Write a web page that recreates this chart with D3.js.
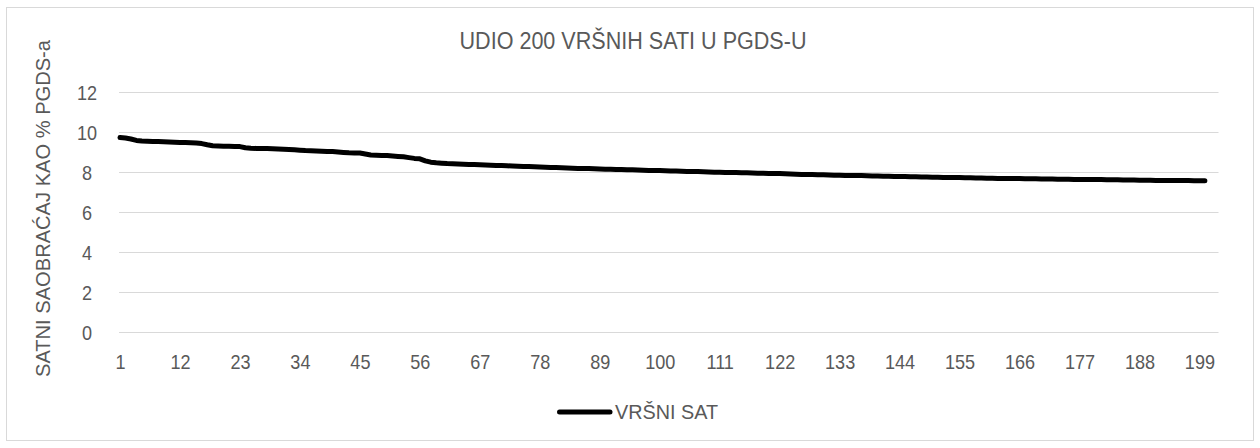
<!DOCTYPE html>
<html>
<head>
<meta charset="utf-8">
<script src="https://cdn.jsdelivr.net/npm/d3@7"></script>
<style>
  html, body { margin: 0; padding: 0; background: #fff; }
  svg { display: block; font-family: "Liberation Sans", Arial, sans-serif; }
</style>
</head>
<body>
<svg id="chart" width="1260" height="448"></svg>
<script>
// Share of each of the 200 peak hours in AADT (%), ranked from highest to lowest
const title = "UDIO 200 VRŠNIH SATI U PGDS-U";
const yTitle = "SATNI SAOBRAĆAJ KAO % PGDS-a";
const seriesName = "VRŠNI SAT";

const peakShare = [
  9.72, 9.70, 9.65, 9.58, 9.55, 9.54, 9.53, 9.52, 9.51, 9.50,
  9.49, 9.48, 9.47, 9.46, 9.45, 9.42, 9.36, 9.31, 9.30, 9.29,
  9.29, 9.28, 9.27, 9.21, 9.19, 9.18, 9.17, 9.17, 9.16, 9.15,
  9.14, 9.13, 9.11, 9.09, 9.07, 9.06, 9.05, 9.04, 9.03, 9.02,
  9.00, 8.98, 8.96, 8.95, 8.95, 8.90, 8.85, 8.84, 8.83, 8.82,
  8.80, 8.78, 8.76, 8.72, 8.68, 8.66, 8.56, 8.49, 8.46, 8.44,
  8.42, 8.41, 8.40, 8.39, 8.38, 8.37, 8.36, 8.35, 8.34, 8.33,
  8.32, 8.31, 8.30, 8.29, 8.28, 8.27, 8.26, 8.25, 8.24, 8.23,
  8.22, 8.21, 8.20, 8.19, 8.18, 8.17, 8.17, 8.16, 8.15, 8.14,
  8.14, 8.13, 8.12, 8.11, 8.11, 8.10, 8.09, 8.08, 8.08, 8.07,
  8.06, 8.05, 8.05, 8.04, 8.03, 8.02, 8.02, 8.01, 8.00, 7.99,
  7.99, 7.98, 7.98, 7.97, 7.96, 7.96, 7.95, 7.94, 7.94, 7.93,
  7.92, 7.92, 7.91, 7.90, 7.89, 7.88, 7.88, 7.87, 7.86, 7.86,
  7.85, 7.84, 7.84, 7.83, 7.83, 7.82, 7.82, 7.81, 7.80, 7.80,
  7.79, 7.79, 7.78, 7.77, 7.77, 7.76, 7.76, 7.75, 7.75, 7.74,
  7.74, 7.73, 7.73, 7.72, 7.72, 7.71, 7.71, 7.70, 7.70, 7.69,
  7.69, 7.68, 7.68, 7.68, 7.67, 7.67, 7.66, 7.66, 7.66, 7.65,
  7.65, 7.65, 7.64, 7.64, 7.64, 7.63, 7.63, 7.63, 7.62, 7.62,
  7.62, 7.61, 7.61, 7.61, 7.60, 7.60, 7.60, 7.59, 7.59, 7.59,
  7.58, 7.58, 7.58, 7.58, 7.57, 7.57, 7.57, 7.56, 7.56, 7.56
];

// Hour rank of each value (1 = busiest hour)
const hourRank = peakShare.map((_, i) => i + 1);

// Category labels shown on the horizontal axis
const xTickLabels = [1, 12, 23, 34, 45, 56, 67, 78, 89, 100, 111, 122, 133, 144, 155, 166, 177, 188, 199];
const yTicks = [0, 2, 4, 6, 8, 10, 12];

const textColor = "#595959";
const gridColor = "#d9d9d9";

// Condensed look for labels: squeeze each glyph run horizontally
function condense(sel, factor) {
  sel.each(function () {
    const w = this.getComputedTextLength();
    d3.select(this)
      .attr("textLength", w * factor)
      .attr("lengthAdjust", "spacingAndGlyphs");
  });
}

const svg = d3.select("#chart");

// Outer chart frame
svg.append("rect")
  .attr("x", 6.5).attr("y", 7.5)
  .attr("width", 1247).attr("height", 433)
  .attr("fill", "#fff")
  .attr("stroke", gridColor)
  .attr("stroke-width", 1);

const plotLeft = 119, plotRight = 1218.5;
const x = d3.scaleLinear().domain([1, 202.5]).range([plotLeft + 1, plotRight]);
const y = d3.scaleLinear().domain([0, 12]).range([332, 92]);

// Horizontal gridlines with value labels
const yAxis = d3.axisLeft(y)
  .tickValues(yTicks)
  .tickSize(-(plotRight - plotLeft))
  .tickPadding(22)
  .tickFormat(d3.format("d"));

const gy = svg.append("g")
  .attr("transform", `translate(${plotLeft},0)`)
  .call(yAxis);
gy.select(".domain").remove();
gy.selectAll(".tick line").attr("stroke", gridColor).attr("stroke-width", 1);
gy.selectAll(".tick text")
  .attr("fill", textColor)
  .attr("font-size", 21)
  .attr("text-anchor", "middle")
  .attr("x", -32)
  .attr("dy", "0.36em")
  .call(condense, 0.86);

// Category labels
const xAxis = d3.axisBottom(x)
  .tickValues(xTickLabels)
  .tickSize(0)
  .tickPadding(0)
  .tickFormat(d3.format("d"));

const gx = svg.append("g")
  .attr("transform", "translate(0,332)")
  .call(xAxis);
gx.select(".domain").remove();
gx.selectAll(".tick text")
  .attr("fill", textColor)
  .attr("font-size", 21)
  .attr("y", 36.5)
  .attr("dy", 0)
  .call(condense, 0.86);

// Data line
const line = d3.line()
  .x((d, i) => x(hourRank[i]))
  .y(d => y(d));

svg.append("path")
  .datum(peakShare)
  .attr("fill", "none")
  .attr("stroke", "#000")
  .attr("stroke-width", 5)
  .attr("stroke-linecap", "round")
  .attr("stroke-linejoin", "round")
  .attr("d", line);

// Title
svg.append("text")
  .attr("x", 633).attr("y", 48.5)
  .attr("text-anchor", "middle")
  .attr("font-size", 23)
  .attr("fill", textColor)
  .text(title)
  .attr("textLength", 347)
  .attr("lengthAdjust", "spacingAndGlyphs");

// Vertical axis title
svg.append("text")
  .attr("transform", "translate(49.5,208.5) rotate(-90)")
  .attr("text-anchor", "middle")
  .attr("font-size", 21)
  .attr("fill", textColor)
  .text(yTitle)
  .attr("textLength", 337)
  .attr("lengthAdjust", "spacingAndGlyphs");

// Legend
const legend = svg.append("g");
legend.append("line")
  .attr("x1", 559.5).attr("x2", 610)
  .attr("y1", 412).attr("y2", 412)
  .attr("stroke", "#000")
  .attr("stroke-width", 5)
  .attr("stroke-linecap", "round");
legend.append("text")
  .attr("x", 615).attr("y", 418.5)
  .attr("font-size", 21)
  .attr("fill", textColor)
  .text(seriesName)
  .attr("textLength", 103)
  .attr("lengthAdjust", "spacingAndGlyphs");
</script>
</body>
</html>
